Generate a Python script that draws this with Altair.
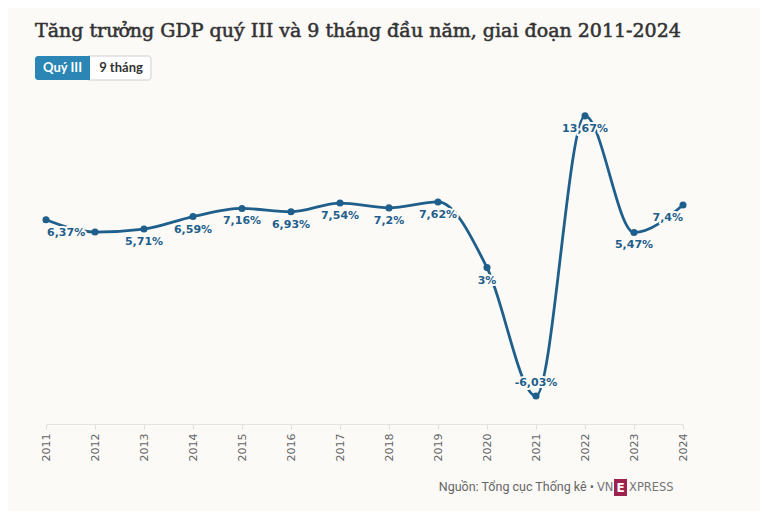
import altair as alt
import pandas as pd

years = list(range(2011, 2025))
growth = [6.37, 5.50, 5.71, 6.59, 7.16, 6.93, 7.54, 7.20, 7.62, 3.00, -6.03, 13.67, 5.47, 7.40]
labels = ["6,37%", "", "5,71%", "6,59%", "7,16%", "6,93%", "7,54%", "7,2%", "7,62%",
          "3%", "-6,03%", "13,67%", "5,47%", "7,4%"]

title_text = "Tăng trưởng GDP quý III và 9 tháng đầu năm, giai đoạn 2011-2024"
button_active = "Quý III"
button_other = "9 tháng"
source_text = "Nguồn: Tổng cục Thống kê •"

BG = "#fbfaf7"
BLUE = "#1f5f8b"
PLOT_LEFT = 46
PLOT_TOP = 97

df = pd.DataFrame({"year": years, "growth": growth, "label": labels})
df["pos"] = "below"
df.loc[df.index[0], "pos"] = "left"
df.loc[df.index[-1], "pos"] = "right"
df.loc[df["growth"].idxmin(), "pos"] = "above"

x = alt.X("year:Q",
          scale=alt.Scale(domain=[2011, 2024], nice=False, zero=False),
          axis=alt.Axis(values=years, format="d", labelAngle=-90, title=None, grid=False,
                        domainColor="#e3e3e3", tickColor="#dddddd", tickSize=5,
                        labelColor="#666666", labelFont="DejaVu Sans", labelFontSize=11,
                        labelPadding=4))
y = alt.Y("growth:Q", scale=alt.Scale(domain=[-8, 15], nice=False, zero=False), axis=None)

base = alt.Chart(df)
line = base.mark_line(interpolate="monotone", color=BLUE, strokeWidth=2.8).encode(x=x, y=y)
pts = base.mark_point(filled=True, color=BLUE, size=50, opacity=1).encode(x=x, y=y)


def label_layer(pos, align, dx, dy, halo):
    kw = dict(align=align, dx=dx, dy=dy, baseline="middle", font="DejaVu Sans",
              fontSize=11, fontWeight="bold")
    if halo:
        kw.update(color=BG, stroke=BG, strokeWidth=4, strokeJoin="round")
    else:
        kw.update(color=BLUE)
    return base.transform_filter(alt.datum.pos == pos).mark_text(**kw).encode(
        x=x, y=y, text="label:N")


specs = [("below", "center", 0, 13), ("left", "left", 1, 13),
         ("right", "right", 0, 13), ("above", "center", 0, -13)]
halos = [label_layer(p, a, dx, dy, True) for p, a, dx, dy in specs]
texts = [label_layer(p, a, dx, dy, False) for p, a, dx, dy in specs]


def px(v):
    return alt.value(v - PLOT_LEFT)


def py(v):
    return alt.value(v - PLOT_TOP)


one = alt.Chart(pd.DataFrame({"t": [title_text], "a": [button_active], "b": [button_other],
                              "s": [source_text]}))

title = one.mark_text(align="left", baseline="alphabetic", font="DejaVu Serif",
                      fontSize=19, color="#333333", stroke="#333333",
                      strokeWidth=0.55).encode(x=px(35), y=py(37), text="t:N")

btn_other_box = one.mark_rect(fill="#ffffff", stroke="#cfcfcf", strokeWidth=1,
                              cornerRadius=3).encode(x=px(86), x2=px(151), y=py(56), y2=py(80))
btn_active_box = one.mark_rect(fill="#2b86b6", cornerRadiusTopLeft=3,
                               cornerRadiusBottomLeft=3).encode(
    x=px(35), x2=px(90), y=py(56), y2=py(80))
btn_active_txt = one.mark_text(align="center", baseline="middle", font="Lato", fontSize=13,
                               fontWeight="bold", color="#ffffff").encode(
    x=px(62.5), y=py(68), text="a:N")
btn_other_txt = one.mark_text(align="center", baseline="middle", font="Lato", fontSize=13,
                              fontWeight="bold", color="#333333").encode(
    x=px(121), y=py(68), text="b:N")

source = one.mark_text(align="right", baseline="alphabetic", font="Roboto", fontSize=12.5,
                       color="#666666").encode(x=px(594), y=py(491), text="s:N")
logo_vn = one.mark_text(align="left", baseline="alphabetic", font="DejaVu Sans",
                        fontSize=11.5, color="#777777").encode(
    x=px(597), y=py(491), text=alt.value("VN"))
logo_box = one.mark_rect(fill="#9f224e").encode(x=px(614), x2=px(627), y=py(479), y2=py(496))
logo_e = one.mark_text(align="center", baseline="alphabetic", font="DejaVu Sans",
                       fontSize=12, fontWeight="bold", color="#ffffff").encode(
    x=px(620.5), y=py(492), text=alt.value("E"))
logo_rest = one.mark_text(align="left", baseline="alphabetic", font="DejaVu Sans",
                          fontSize=11.5, color="#777777").encode(
    x=px(629), y=py(491), text=alt.value("XPRESS"))

chart = alt.layer(
    line, pts, *halos, *texts,
    title, btn_other_box, btn_active_box, btn_active_txt, btn_other_txt,
    source, logo_vn, logo_box, logo_e, logo_rest,
).properties(
    width=637, height=327,
    padding={"left": PLOT_LEFT - 8, "top": PLOT_TOP - 8, "right": 77, "bottom": 87},
    autosize=alt.AutoSizeParams(type="none"),
    background=BG,
).configure_view(stroke=None)

chart.save("out.html", embed_options={"renderer": "svg", "actions": False})
